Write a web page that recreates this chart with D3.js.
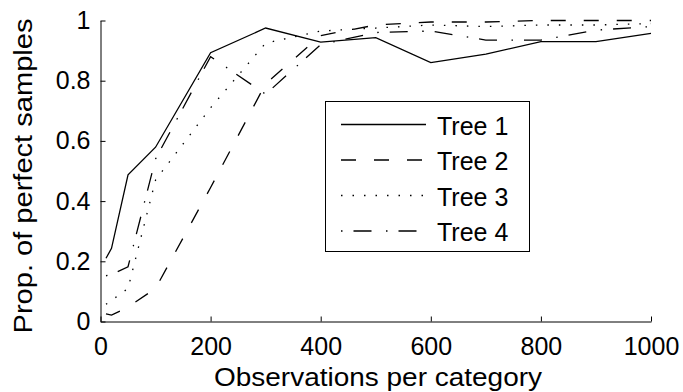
<!DOCTYPE html>
<html>
<head>
<meta charset="utf-8">
<script src="https://cdn.jsdelivr.net/npm/d3@7/dist/d3.min.js"></script>
<style>
  body { margin: 0; background: #fff; }
  text { font-family: "Liberation Sans", Arial, Helvetica, sans-serif; fill: #000; }
</style>
</head>
<body>
<div id="chart"></div>
<script>
// observations per category (x) and proportion of perfect samples per tree
const obs   = [10, 20, 50, 100, 200, 300, 400, 500, 600, 700, 800, 900, 1000];
const tree1 = [0.21, 0.243, 0.487, 0.579, 0.893, 0.975, 0.928, 0.943, 0.86, 0.888, 0.93, 0.93, 0.957];
const tree2 = [0.025, 0.021, 0.048, 0.11, 0.445, 0.79, 0.95, 0.985, 0.995, 0.995, 1.0, 1.0, 1.0];
const tree3 = [0.057, 0.07, 0.11, 0.47, 0.71, 0.925, 0.965, 0.975, 0.985, 0.98, 0.985, 0.985, 0.99];
const tree4 = [0.152, 0.156, 0.182, 0.54, 0.88, 0.755, 0.92, 0.96, 0.965, 0.935, 0.935, 0.968, 0.98];
const seriesNames = ["Tree 1", "Tree 2", "Tree 3", "Tree 4"];
const xTicks = [0, 200, 400, 600, 800, 1000];
const yTicks = [0, 0.2, 0.4, 0.6, 0.8, 1];

const width = 683, height = 392;
const dashes = [null, "15,18", "1.5,10", "1.5,11,18,14.5"];

const x = d3.scaleLinear().domain([0, 1000]).range([100.5, 651]);
const y = d3.scaleLinear().domain([0, 1]).range([321.5, 20.5]);

const svg = d3.select("#chart").append("svg")
    .attr("width", width)
    .attr("height", height);

// axes, ticks pointing inward like matlab
const xAxis = d3.axisBottom(x).tickValues(xTicks).tickFormat(d3.format("d"))
    .tickSizeInner(-5).tickSizeOuter(0).tickPadding(16);
const yAxis = d3.axisLeft(y).tickValues(yTicks).tickFormat(d => d === 0 || d === 1 ? d : d3.format(".1f")(d))
    .tickSizeInner(-5).tickSizeOuter(0).tickPadding(10);

const gx = svg.append("g").attr("transform", "translate(0," + y(0) + ")").call(xAxis);
const gy = svg.append("g").attr("transform", "translate(" + x(0) + ",0)").call(yAxis);

[gx, gy].forEach(g => {
  g.select(".domain").attr("stroke", "#000").attr("stroke-width", 1);
  g.selectAll(".tick line").attr("stroke", "#000").attr("stroke-width", 1);
  g.selectAll(".tick text").attr("font-size", 25).attr("font-family", null).attr("fill", "#000");
});

// lines
const line = d3.line()
    .x((d, i) => x(obs[i]))
    .y(d => y(d));

const all = [tree1, tree2, tree3, tree4];
svg.append("g").selectAll("path")
  .data(all)
  .enter().append("path")
    .attr("d", line)
    .attr("fill", "none")
    .attr("stroke", "#000")
    .attr("stroke-width", 1.3)
    .attr("stroke-dasharray", (d, i) => dashes[i]);

// axis titles (stretched a bit, the original font runs wider)
svg.append("text")
    .attr("x", 378)
    .attr("y", 386)
    .attr("text-anchor", "middle")
    .attr("font-size", 26)
    .attr("textLength", 328)
    .attr("lengthAdjust", "spacingAndGlyphs")
    .text("Observations per category");

svg.append("text")
    .attr("transform", "translate(32,176)rotate(-90)")
    .attr("text-anchor", "middle")
    .attr("font-size", 26)
    .attr("textLength", 315)
    .attr("lengthAdjust", "spacingAndGlyphs")
    .text("Prop. of perfect samples");

// legend
const legend = svg.append("g");
legend.append("rect")
    .attr("x", 325.5).attr("y", 101.5)
    .attr("width", 204).attr("height", 150)
    .attr("fill", "#fff").attr("stroke", "#000").attr("stroke-width", 1);

const items = legend.selectAll("g.item")
  .data(seriesNames)
  .enter().append("g")
    .attr("transform", (d, i) => "translate(0," + (134.5 + i * 35.5) + ")");

items.append("line")
    .attr("x1", 341).attr("x2", 426)
    .attr("y1", -10).attr("y2", -10)
    .attr("stroke", "#000")
    .attr("stroke-width", 1.3)
    .attr("stroke-dasharray", (d, i) => dashes[i]);

items.append("text")
    .attr("x", 437)
    .attr("font-size", 25)
    .text(d => d);
</script>
</body>
</html>
